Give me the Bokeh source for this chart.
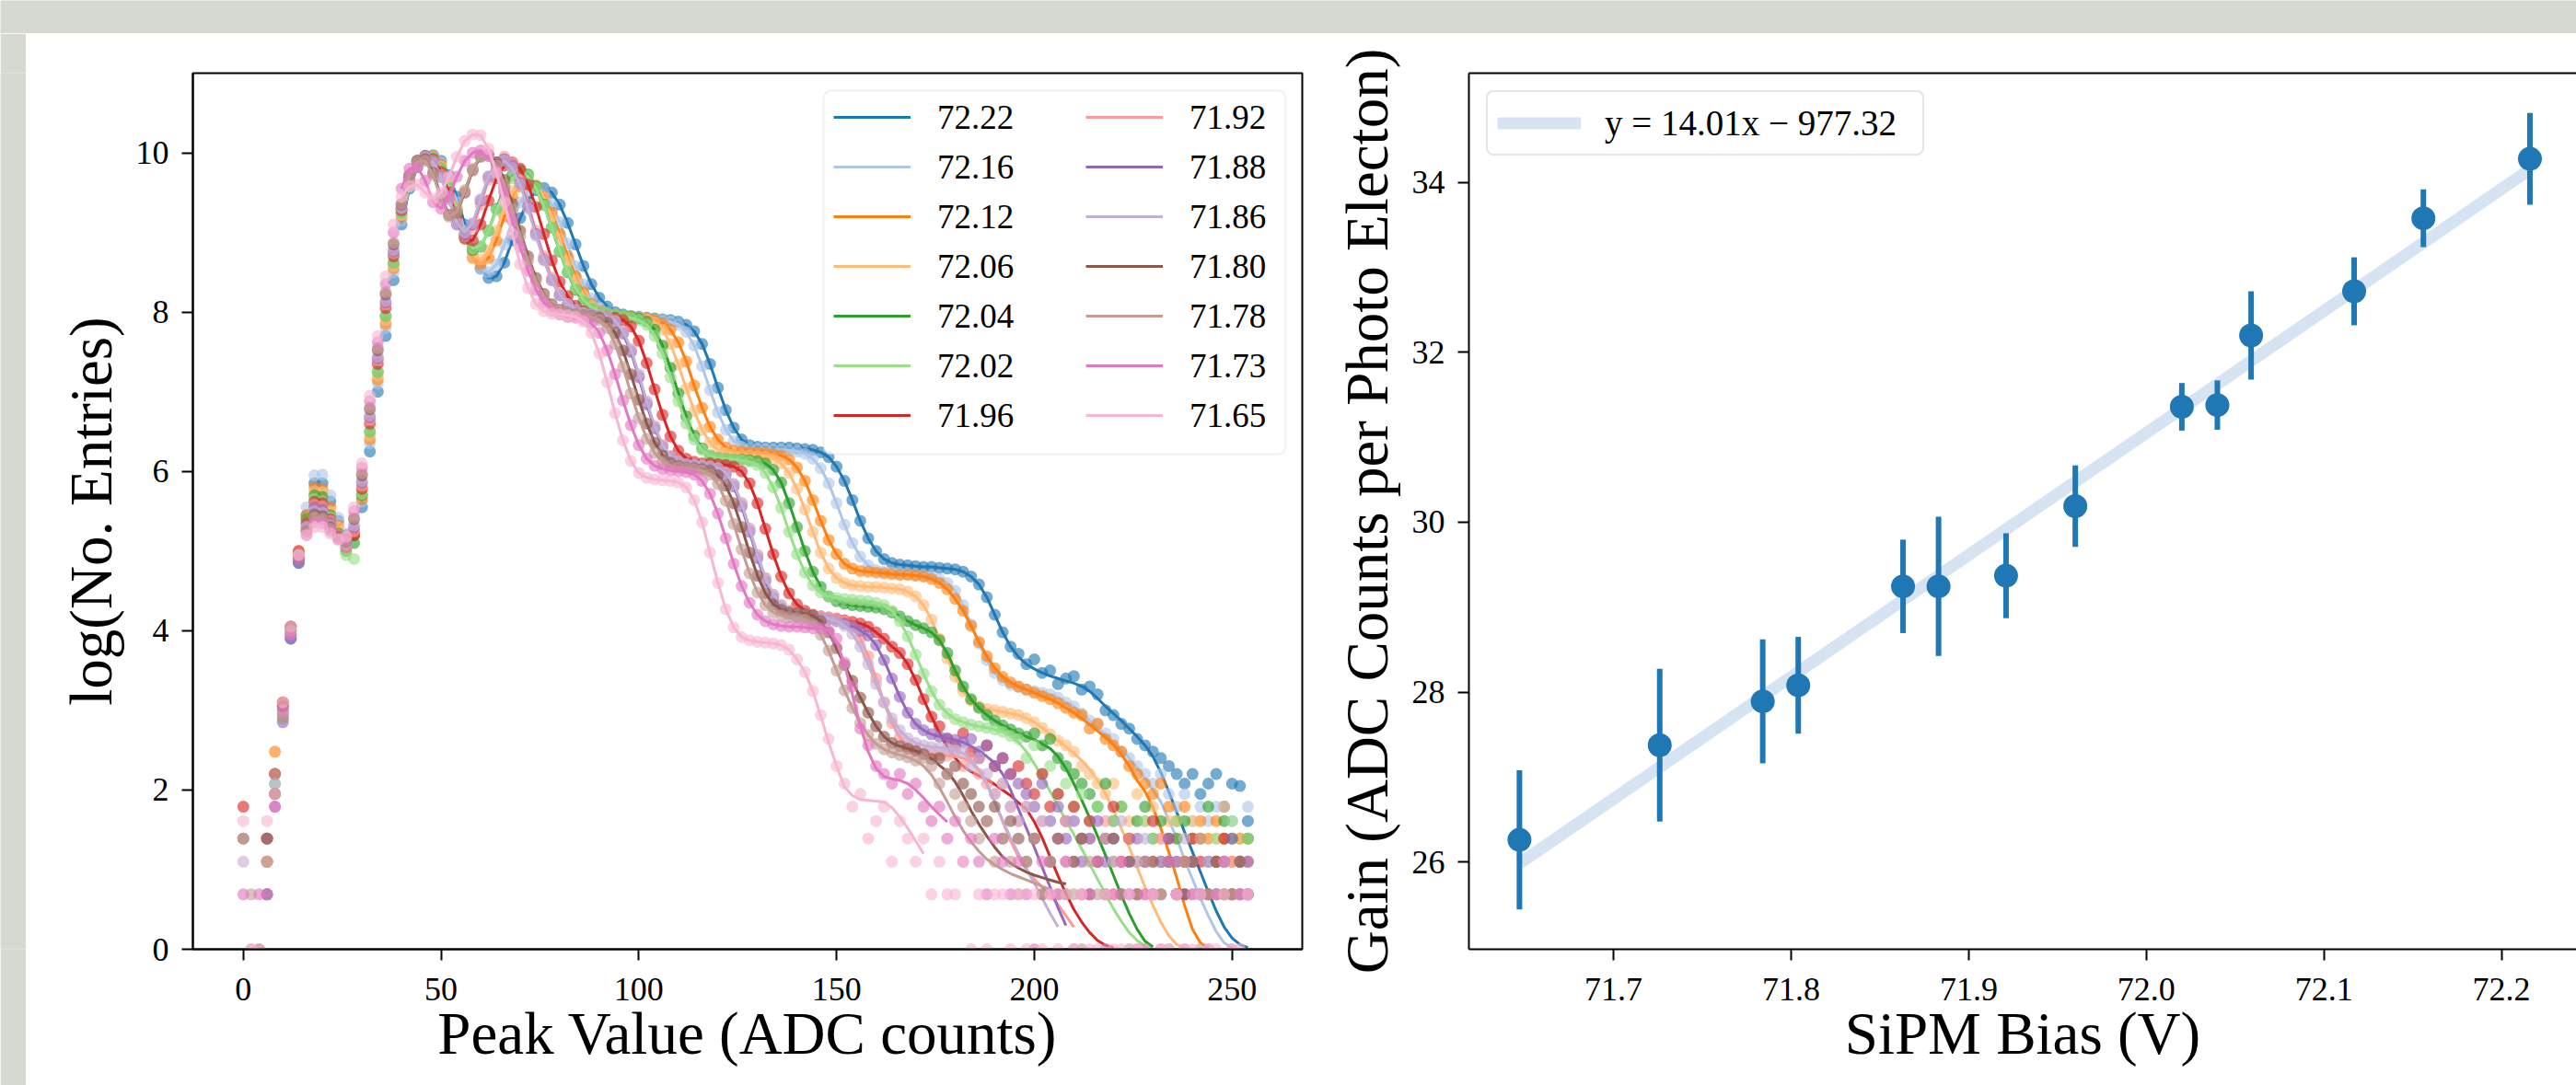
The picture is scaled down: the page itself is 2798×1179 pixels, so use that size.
import numpy as np
from bokeh.plotting import figure
from bokeh.models import (Range1d, FixedTicker, PrintfTickFormatter, Legend,
                          LegendItem, LinearAxis, BoxAnnotation)
from bokeh.layouts import row, column
from bokeh.embed import file_html
from bokeh.resources import INLINE

FONT = "Liberation Serif"
PAGE_GRAY = "#d6d9d2"

# ------------------------------------------------------------------
# Left panel data: log(entries) per ADC bin for 14 SiPM bias values
# ------------------------------------------------------------------
series_labels = ["72.22", "72.16", "72.12", "72.06", "72.04", "72.02", "71.96",
                 "71.92", "71.88", "71.86", "71.80", "71.78", "71.73", "71.65"]
series_colors = ["#1f77b4", "#aec7e8", "#ff7f0e", "#ffbb78", "#2ca02c", "#98df8a",
                 "#d62728", "#ff9896", "#9467bd", "#c5b0d5", "#8c564b", "#c49c94",
                 "#e377c2", "#f7b6d2"]
adc_ticks = [0, 50, 100, 150, 200, 250]
log_ticks = [0, 2, 4, 6, 8, 10]
early_bins = [0, 2, 4, 6, 8, 10, 12, 14, 16, 18, 20, 22, 24, 26, 28, 30, 32, 34, 36, 38]
fit_first_bin = 40
bin_step = 2

# 72.22
early_7222 = [None, None, None, 1.1, 2.2, 2.95, 3.9, 4.85, 5.45, 5.85, 5.85, 5.62, 5.38, 5.2, 5.2, 5.55, 6.25, 7.0, 7.7, 8.4]
fit_7222 = [9.1, 9.55, 9.82, 9.95, 9.97, 9.9, 9.72, 9.45, 9.1, 8.78,
            8.55, 8.43, 8.45, 8.62, 8.9, 9.18, 9.4, 9.53, 9.56, 9.5,
            9.35, 9.12, 8.85, 8.58, 8.35, 8.18, 8.07, 8.0, 7.97, 7.95,
            7.94, 7.93, 7.92, 7.91, 7.9, 7.88, 7.84, 7.76, 7.6, 7.35,
            7.05, 6.77, 6.55, 6.4, 6.33, 6.31, 6.3, 6.3, 6.3, 6.3,
            6.29, 6.28, 6.27, 6.24, 6.18, 6.06, 5.88, 5.64, 5.38, 5.16,
            5.0, 4.9, 4.85, 4.83, 4.82, 4.81, 4.8, 4.8, 4.79, 4.78,
            4.77, 4.74, 4.68, 4.58, 4.42, 4.2, 3.98, 3.8, 3.67, 3.58,
            3.52, 3.47, 3.43, 3.4, 3.37, 3.34, 3.3, 3.24, 3.15, 3.05,
            2.96, 2.87, 2.77, 2.67, 2.56, 2.42, 2.22, 1.98, 1.72, 1.47,
            1.22, 0.97, 0.72, 0.48, 0.28, 0.14, 0.06, 0.02]
tail_from_7222 = 196
tail_7222 = [3.71, 3.58, 3.64, 3.47, 3.5, 3.33, 3.4, 3.43, 3.26, 3.3,
             3.2, 3.0, 2.94, 2.83, 2.77, 2.64, 2.56, 2.48, 2.4, 2.3,
             2.2, 2.08, 2.2, 1.95, 2.08, 2.2, 1.79, 2.08, 2.05, 1.61]

# 72.16
early_7216 = [None, None, None, 0.69, 2.08, 3.0, 3.95, 4.95, 5.55, 5.95, 5.96, 5.7, 5.42, 5.22, 5.25, 5.62, 6.35, 7.1, 7.8, 8.5]
fit_7216 = [9.15, 9.58, 9.84, 9.95, 9.96, 9.88, 9.68, 9.38, 9.02, 8.72,
            8.54, 8.5, 8.6, 8.85, 9.14, 9.38, 9.52, 9.56, 9.5, 9.35,
            9.13, 8.86, 8.58, 8.35, 8.17, 8.06, 8.0, 7.97, 7.95, 7.94,
            7.93, 7.92, 7.91, 7.9, 7.88, 7.84, 7.75, 7.58, 7.32, 7.02,
            6.74, 6.52, 6.38, 6.31, 6.29, 6.28, 6.28, 6.27, 6.27, 6.26,
            6.25, 6.22, 6.16, 6.04, 5.85, 5.6, 5.33, 5.1, 4.93, 4.82,
            4.76, 4.74, 4.73, 4.72, 4.71, 4.7, 4.69, 4.68, 4.65, 4.6,
            4.5, 4.32, 4.08, 3.84, 3.63, 3.47, 3.38, 3.32, 3.29, 3.26,
            3.24, 3.22, 3.2, 3.16, 3.1, 3.05, 2.96, 2.87, 2.78, 2.69,
            2.6, 2.5, 2.4, 2.28, 2.15, 2.0, 1.85, 1.62, 1.4, 1.12,
            0.88, 0.64, 0.42, 0.22, 0.08, 0.02]
tail_from_7216 = 216
tail_7216 = [2.83, 2.71, 2.64, 2.48, 2.4, 2.3, 2.2, 2.08, 2.2, 1.95,
             1.79, 1.95, 1.61, 1.79, 1.61, 1.79, 1.39, 1.61, 1.39, 1.79]

# 72.12
early_7212 = [None, None, None, 1.39, 2.48, 3.05, 4.0, 4.95, 5.45, 5.8, 5.78, 5.55, 5.32, 5.15, 5.2, 5.65, 6.4, 7.15, 7.85, 8.55]
fit_7212 = [9.2, 9.62, 9.86, 9.96, 9.95, 9.85, 9.62, 9.3, 8.95, 8.68,
            8.6, 8.68, 8.9, 9.2, 9.45, 9.58, 9.62, 9.58, 9.45, 9.25,
            8.98, 8.7, 8.45, 8.25, 8.1, 8.02, 7.98, 7.96, 7.95, 7.94,
            7.93, 7.92, 7.9, 7.86, 7.78, 7.62, 7.38, 7.08, 6.8, 6.56,
            6.4, 6.3, 6.26, 6.25, 6.24, 6.24, 6.23, 6.22, 6.2, 6.15,
            6.05, 5.88, 5.64, 5.38, 5.14, 4.96, 4.84, 4.78, 4.75, 4.74,
            4.73, 4.72, 4.71, 4.7, 4.7, 4.69, 4.68, 4.65, 4.6, 4.52,
            4.4, 4.25, 4.06, 3.86, 3.68, 3.53, 3.42, 3.35, 3.3, 3.26,
            3.22, 3.18, 3.14, 3.09, 3.03, 2.97, 2.9, 2.82, 2.74, 2.66,
            2.57, 2.45, 2.3, 2.12, 1.98, 1.78, 1.52, 1.22, 0.9, 0.55,
            0.25, 0.08, 0.02]
tail_from_7212 = 212
tail_7212 = [2.94, 2.77, 2.83, 2.64, 2.56, 2.48, 2.3, 2.2, 2.08, 1.95,
             2.08, 1.79, 1.61, 1.79, 1.39, 1.61, 1.39, 1.61, 1.39, 1.1,
             1.39, 1.39]

# 72.06
early_7206 = [None, None, None, 1.1, 2.2, 3.1, 4.05, 5.0, 5.4, 5.75, 5.74, 5.5, 5.3, 5.12, 5.25, 5.7, 6.45, 7.2, 7.9, 8.58]
fit_7206 = [9.22, 9.63, 9.87, 9.96, 9.94, 9.83, 9.6, 9.28, 8.96, 8.72,
            8.66, 8.78, 9.02, 9.3, 9.52, 9.65, 9.68, 9.6, 9.44, 9.2,
            8.92, 8.64, 8.4, 8.21, 8.08, 8.01, 7.98, 7.96, 7.95, 7.94,
            7.93, 7.91, 7.87, 7.78, 7.6, 7.34, 7.04, 6.76, 6.52, 6.36,
            6.27, 6.23, 6.21, 6.2, 6.2, 6.19, 6.18, 6.16, 6.1, 5.98,
            5.78, 5.52, 5.24, 4.98, 4.78, 4.66, 4.6, 4.57, 4.56, 4.55,
            4.55, 4.54, 4.53, 4.52, 4.49, 4.43, 4.32, 4.14, 3.9, 3.65,
            3.42, 3.24, 3.12, 3.05, 3.02, 3.0, 2.98, 2.96, 2.94, 2.9,
            2.85, 2.78, 2.7, 2.62, 2.54, 2.46, 2.37, 2.26, 2.12, 1.95,
            1.75, 1.52, 1.28, 1.03, 0.78, 0.55, 0.34, 0.17, 0.06, 0.02]
tail_from_7206 = 208
tail_7206 = [2.56, 2.48, 2.3, 2.2, 2.08, 1.95, 2.08, 1.79, 1.61, 1.95,
             1.61, 1.79, 1.39, 1.61, 1.39, 1.1, 1.61, 1.39, 1.1, 1.39,
             1.79, 1.1, 1.39, 1.1]

# 72.04
early_7204 = [None, None, None, 0.69, 1.95, 2.9, 3.95, 4.9, 5.4, 5.7, 5.68, 5.45, 5.22, 5.0, 5.1, 5.7, 6.5, 7.25, 7.95, 8.62]
fit_7204 = [9.25, 9.65, 9.88, 9.96, 9.93, 9.8, 9.56, 9.25, 8.94, 8.78,
            8.82, 9.02, 9.3, 9.56, 9.72, 9.78, 9.73, 9.58, 9.35, 9.06,
            8.76, 8.5, 8.28, 8.13, 8.04, 8.0, 7.98, 7.96, 7.95, 7.94,
            7.92, 7.88, 7.78, 7.58, 7.3, 6.98, 6.69, 6.45, 6.29, 6.2,
            6.17, 6.16, 6.15, 6.15, 6.14, 6.13, 6.1, 6.02, 5.86, 5.6,
            5.3, 5.0, 4.74, 4.55, 4.43, 4.37, 4.34, 4.32, 4.31, 4.3,
            4.29, 4.27, 4.23, 4.18, 4.12, 4.07, 4.03, 3.98, 3.88, 3.72,
            3.5, 3.3, 3.14, 3.03, 2.94, 2.87, 2.81, 2.76, 2.71, 2.67,
            2.63, 2.58, 2.52, 2.42, 2.27, 2.08, 1.87, 1.65, 1.42, 1.18,
            0.93, 0.68, 0.45, 0.25, 0.1, 0.03]
tail_from_7204 = 200
tail_7204 = [2.71, 2.56, 2.64, 2.4, 2.3, 2.2, 2.08, 1.95, 1.79, 2.08,
             1.61, 1.79, 1.39, 1.61, 1.79, 1.39, 1.61, 1.1, 1.39, 1.61,
             1.1, 1.39, 1.79, 1.1, 1.61, 1.39, 1.1, 1.39]

# 72.02
early_7202 = [None, None, None, 1.1, 2.08, 3.0, 4.0, 4.95, 5.35, 5.65, 5.62, 5.42, 5.2, 4.95, 4.9, 5.72, 6.5, 7.25, 7.95, 8.62]
fit_7202 = [9.24, 9.64, 9.87, 9.95, 9.93, 9.8, 9.57, 9.27, 8.97, 8.8,
            8.83, 9.02, 9.28, 9.52, 9.68, 9.74, 9.7, 9.56, 9.34, 9.06,
            8.77, 8.51, 8.3, 8.15, 8.06, 8.01, 7.98, 7.96, 7.95, 7.93,
            7.9, 7.84, 7.7, 7.48, 7.18, 6.88, 6.6, 6.4, 6.27, 6.2,
            6.17, 6.16, 6.15, 6.14, 6.12, 6.08, 5.98, 5.8, 5.54, 5.24,
            4.96, 4.73, 4.57, 4.48, 4.43, 4.41, 4.4, 4.39, 4.38, 4.37,
            4.35, 4.32, 4.25, 4.12, 3.93, 3.7, 3.46, 3.24, 3.07, 2.96,
            2.89, 2.85, 2.82, 2.8, 2.78, 2.76, 2.73, 2.68, 2.6, 2.48,
            2.33, 2.16, 1.98, 1.8, 1.62, 1.44, 1.26, 1.07, 0.88, 0.69,
            0.51, 0.35, 0.21, 0.11, 0.04]
tail_from_7202 = 196
tail_7202 = [2.64, 2.4, 2.56, 2.2, 2.3, 1.95, 2.08, 1.79, 1.95, 1.61,
             1.79, 1.39, 1.61, 1.79, 1.39, 1.1, 1.61, 1.39, 1.1, 1.39,
             1.61, 1.1, 1.39, 0.69, 1.1, 1.39, 1.1, 1.61, 1.1, 1.39]

# 71.96
early_7196 = [1.79, None, None, 1.39, 2.2, 3.1, 4.05, 5.0, 5.35, 5.62, 5.6, 5.4, 5.2, 5.05, 5.2, 5.78, 6.6, 7.35, 8.05, 8.7]
fit_7196 = [9.28, 9.67, 9.89, 9.96, 9.92, 9.76, 9.5, 9.18, 8.92, 8.9,
            9.1, 9.4, 9.68, 9.84, 9.88, 9.8, 9.6, 9.32, 8.98, 8.65,
            8.38, 8.2, 8.08, 8.01, 7.97, 7.95, 7.94, 7.93, 7.9, 7.82,
            7.64, 7.36, 7.03, 6.71, 6.44, 6.26, 6.16, 6.12, 6.1, 6.1,
            6.09, 6.08, 6.06, 6.0, 5.85, 5.6, 5.28, 4.96, 4.68, 4.47,
            4.33, 4.25, 4.2, 4.18, 4.16, 4.15, 4.13, 4.11, 4.09, 4.05,
            3.98, 3.9, 3.8, 3.72, 3.58, 3.38, 3.14, 2.92, 2.72, 2.54,
            2.4, 2.3, 2.23, 2.18, 2.13, 2.07, 2.0, 1.93, 1.84, 1.76,
            1.6, 1.4, 1.16, 0.92, 0.7, 0.5, 0.34, 0.21, 0.11, 0.05,
            0.02]
tail_from_7196 = 176
tail_7196 = [2.8, 2.64, 2.56, 2.71, 2.48, 2.4, 2.56, 2.3, 2.4, 2.2,
             2.3, 2.08, 1.95, 2.2, 1.79, 1.95, 1.61, 1.79, 1.39, 1.61,
             1.1, 1.39, 1.79, 1.1, 1.39, 0.69, 1.1, 1.61, 1.1, 1.39,
             0.69, 1.1, 1.39, 1.1, 0.69, 1.1, 1.39, 0.69, 1.1, 0.69]

# 71.92
early_7192 = [None, None, None, 1.1, 1.95, 2.95, 3.95, 4.9, 5.3, 5.58, 5.56, 5.38, 5.2, 5.05, 5.25, 5.82, 6.65, 7.4, 8.1, 8.74]
fit_7192 = [9.3, 9.7, 9.9, 9.95, 9.9, 9.72, 9.45, 9.12, 8.95, 9.05,
            9.35, 9.66, 9.88, 9.95, 9.88, 9.66, 9.36, 9.02, 8.7, 8.43,
            8.23, 8.1, 8.02, 7.98, 7.96, 7.95, 7.93, 7.88, 7.75, 7.52,
            7.2, 6.86, 6.56, 6.33, 6.19, 6.12, 6.09, 6.08, 6.07, 6.06,
            6.04, 5.98, 5.84, 5.6, 5.28, 4.95, 4.66, 4.45, 4.32, 4.25,
            4.22, 4.2, 4.19, 4.18, 4.17, 4.15, 4.12, 4.05, 3.9, 3.68,
            3.4, 3.1, 2.84, 2.66, 2.55, 2.49, 2.46, 2.45, 2.44, 2.43,
            2.42, 2.4, 2.35, 2.25, 2.08, 1.85, 1.6, 1.36, 1.16, 1.0,
            0.88, 0.78, 0.68, 0.56, 0.42, 0.28]
tail_from_7192 = 180
tail_7192 = [2.48, 2.3, 2.4, 2.2, 2.08, 1.95, 2.08, 1.79, 1.61, 1.79,
             1.39, 1.61, 1.1, 1.39, 1.61, 1.1, 0.69, 1.39, 1.1, 1.61,
             0.69, 1.1, 1.39, 1.1, 0.69, 1.1, 1.39, None, 1.1, 0.69,
             1.1, 1.39, 0.69, 1.1, 0.69, 1.1, 0.69, 1.1]

# 71.88
early_7188 = [None, None, None, 0.69, 1.79, 2.85, 3.9, 4.85, 5.3, 5.55, 5.52, 5.35, 5.18, 5.1, 5.3, 5.86, 6.68, 7.42, 8.12, 8.76]
fit_7188 = [9.3, 9.7, 9.9, 9.95, 9.89, 9.7, 9.42, 9.1, 8.97, 9.1,
            9.4, 9.7, 9.88, 9.92, 9.84, 9.62, 9.32, 8.98, 8.66, 8.4,
            8.21, 8.09, 8.02, 7.98, 7.96, 7.95, 7.93, 7.87, 7.73, 7.5,
            7.18, 6.84, 6.54, 6.31, 6.18, 6.11, 6.08, 6.07, 6.06, 6.05,
            6.03, 5.96, 5.81, 5.56, 5.24, 4.91, 4.62, 4.41, 4.28, 4.21,
            4.18, 4.17, 4.16, 4.15, 4.14, 4.12, 4.09, 4.05, 4.0, 3.94,
            3.82, 3.63, 3.4, 3.17, 2.97, 2.83, 2.75, 2.7, 2.67, 2.65,
            2.63, 2.6, 2.55, 2.49, 2.42, 2.34, 2.2, 2.0, 1.76, 1.52,
            1.28, 1.03, 0.78, 0.52, 0.3]
tail_from_7188 = 184
tail_7188 = [2.64, 2.48, 2.56, 2.3, 2.4, 2.2, 2.08, 1.95, 1.79, 2.08,
             1.61, 1.79, 1.39, 1.61, 1.1, 1.39, 1.61, 1.1, 1.39, 0.69,
             1.1, 1.39, 1.1, 0.69, 1.1, 1.39, 1.1, 0.69, 1.1, None,
             1.1, 0.69, 1.1, 1.39, 0.69, 1.1]

# 71.86
early_7186 = [1.1, None, None, 1.39, 2.08, 3.0, 4.0, 4.95, 5.3, 5.5, 5.48, 5.32, 5.18, 5.08, 5.32, 5.88, 6.7, 7.44, 8.14, 8.78]
fit_7186 = [9.31, 9.7, 9.9, 9.95, 9.88, 9.69, 9.41, 9.12, 9.0, 9.12,
            9.42, 9.7, 9.87, 9.9, 9.81, 9.6, 9.3, 8.96, 8.65, 8.4,
            8.22, 8.1, 8.03, 7.99, 7.97, 7.96, 7.94, 7.89, 7.76, 7.54,
            7.22, 6.88, 6.57, 6.33, 6.19, 6.12, 6.09, 6.08, 6.07, 6.06,
            6.04, 5.98, 5.84, 5.6, 5.28, 4.95, 4.66, 4.45, 4.32, 4.25,
            4.21, 4.19, 4.18, 4.17, 4.15, 4.12, 4.06, 3.96, 3.8, 3.58,
            3.33, 3.1, 2.9, 2.75, 2.65, 2.59, 2.56, 2.54, 2.53, 2.52,
            2.5, 2.46, 2.38, 2.25, 2.07, 1.85, 1.62, 1.4, 1.2, 1.01,
            0.83, 0.64, 0.45, 0.28]
tail_from_7186 = 182
tail_7186 = [2.48, 2.3, 2.4, 2.2, 1.95, 2.08, 1.79, 1.61, 1.79, 1.39,
             1.61, 1.1, 1.39, 1.61, 1.1, 1.39, 0.69, 1.1, 1.39, 1.1,
             1.61, 0.69, 1.1, 1.39, 0.69, 1.1, 1.1, 0.69, 1.39, 1.1,
             0.69, 1.1, 0.69, 1.1, 0.69, 1.1, 0.69]

# 71.80
early_7180 = [1.39, None, 0, 1.39, 1.95, 3.05, 4.05, 4.9, 5.25, 5.46, 5.44, 5.3, 5.18, 5.12, 5.4, 5.95, 6.78, 7.52, 8.22, 8.85]
fit_7180 = [9.35, 9.72, 9.9, 9.92, 9.75, 9.45, 9.22, 9.25, 9.5, 9.78,
            9.95, 9.98, 9.88, 9.66, 9.36, 9.02, 8.7, 8.43, 8.23, 8.1,
            8.03, 7.99, 7.97, 7.96, 7.95, 7.93, 7.87, 7.74, 7.52, 7.22,
            6.9, 6.6, 6.36, 6.2, 6.11, 6.07, 6.05, 6.04, 6.03, 6.01,
            5.95, 5.82, 5.6, 5.3, 4.98, 4.69, 4.47, 4.33, 4.26, 4.23,
            4.22, 4.21, 4.19, 4.12, 3.98, 3.78, 3.57, 3.37, 3.16, 2.97,
            2.8, 2.67, 2.59, 2.55, 2.52, 2.49, 2.45, 2.39, 2.31, 2.23,
            2.1, 1.93, 1.74, 1.57, 1.42, 1.28, 1.16, 1.08, 1.02, 0.97,
            0.93, 0.9, 0.87, 0.84, 0.82]
tail_from_7180 = 176
tail_7180 = [2.4, 2.2, 2.3, 2.08, 1.95, 1.79, 1.61, 1.79, 1.39, 1.61,
             1.39, 1.1, 1.39, 0.69, 1.1, 1.39, 0.69, 1.1, 1.39, 0.69,
             1.1, 0.69, 1.39, 0.69, 1.1, 0.69, 0, 1.1, 0.69, 1.1,
             0.69, 0.69, 1.1, 0.69, 0.69, 1.1, 0.69, 0.69, 1.1, 0.69]

# 71.78
early_7178 = [1.39, 0.69, None, 1.1, 2.2, 2.9, 4.0, 4.95, 5.25, 5.42, 5.4, 5.28, 5.16, 5.12, 5.42, 5.98, 6.8, 7.55, 8.25, 8.87]
fit_7178 = [9.36, 9.72, 9.89, 9.9, 9.72, 9.42, 9.2, 9.26, 9.53, 9.8,
            9.96, 9.96, 9.84, 9.6, 9.29, 8.95, 8.64, 8.39, 8.2, 8.08,
            8.02, 7.99, 7.97, 7.96, 7.94, 7.9, 7.8, 7.6, 7.31, 6.98,
            6.67, 6.41, 6.23, 6.12, 6.07, 6.05, 6.04, 6.03, 6.01, 5.96,
            5.84, 5.63, 5.34, 5.02, 4.72, 4.48, 4.32, 4.23, 4.19, 4.17,
            4.16, 4.14, 4.08, 3.95, 3.75, 3.5, 3.25, 3.03, 2.84, 2.69,
            2.58, 2.51, 2.47, 2.44, 2.41, 2.37, 2.3, 2.19, 2.03, 1.85,
            1.66, 1.49, 1.35, 1.23, 1.13, 1.06, 1.0, 0.95, 0.91, 0.87,
            0.83, 0.79, 0.75]
tail_from_7178 = 172
tail_7178 = [2.4, 2.3, 2.08, 2.2, 1.95, 1.79, 1.61, 1.39, 1.61, 1.1,
             1.39, 1.1, 0.69, 1.1, 1.39, 0.69, 1.1, 0.69, 1.1, 0.69,
             0, 1.1, 0.69, 0.69, 1.1, 0.69, 0, 0.69, 1.1, 0.69,
             0.69, 0, 0.69, 1.1, 0.69, 0, 0.69, 0.69, 1.1, 0.69,
             0.69, 0.69]

# 71.73
early_7173 = [0.69, 0, 0.69, 0.69, 1.79, 3.0, 3.95, 4.9, 5.2, 5.36, 5.35, 5.25, 5.15, 5.15, 5.5, 6.05, 6.88, 7.62, 8.35, 9.0]
fit_7173 = [9.55, 9.8, 9.82, 9.65, 9.38, 9.3, 9.45, 9.7, 9.9, 10.0,
            10.03, 9.96, 9.78, 9.5, 9.16, 8.82, 8.52, 8.28, 8.12, 8.02,
            7.97, 7.94, 7.93, 7.91, 7.86, 7.74, 7.52, 7.22, 6.89, 6.58,
            6.33, 6.16, 6.07, 6.03, 6.01, 6.0, 5.99, 5.96, 5.88, 5.72,
            5.47, 5.16, 4.84, 4.56, 4.35, 4.2, 4.12, 4.08, 4.06, 4.05,
            4.05, 4.04, 4.03, 4.03, 4.0, 3.86, 3.58, 3.2, 2.8, 2.48,
            2.27, 2.17, 2.14, 2.12, 2.08, 2.0, 1.9, 1.79, 1.69, 1.6]
tail_from_7173 = 150
tail_7173 = [3.9, 3.6, 3.3, 2.77, 2.56, 2.3, 2.2, 2.08, 2.2, 1.95,
             2.08, 1.79, 1.61, 1.79, 1.39, 1.61, 1.1, 1.39, 1.1, 0.69,
             1.39, 1.1, 0.69, 1.1, 0.69, 0, 1.1, 0.69, 0.69, 1.1,
             0, 0.69, 0.69, 1.1, 0, 0.69, 1.1, 0.69, 0, 0.69,
             0.69, 0, 1.1, 0.69, 0, 0.69, 0.69, 0, 0.69, 1.1,
             0, 0.69, 0.69]

# 71.65
early_7165 = [1.61, 0, 0, 1.61, 1.95, 3.1, 4.05, 4.95, 5.2, 5.3, 5.3, 5.22, 5.14, 5.18, 5.55, 6.1, 6.95, 7.7, 8.45, 9.1]
fit_7165 = [9.45, 9.58, 9.6, 9.5, 9.42, 9.5, 9.7, 9.95, 10.15, 10.23,
            10.22, 10.05, 9.75, 9.38, 8.98, 8.6, 8.3, 8.1, 8.01, 7.98,
            7.97, 7.96, 7.94, 7.88, 7.74, 7.48, 7.12, 6.73, 6.39, 6.13,
            5.98, 5.92, 5.9, 5.89, 5.88, 5.86, 5.8, 5.64, 5.36, 4.98,
            4.6, 4.27, 4.04, 3.92, 3.88, 3.86, 3.85, 3.84, 3.82, 3.76,
            3.64, 3.48, 3.24, 2.93, 2.6, 2.3, 2.04, 1.93, 1.88, 1.87,
            1.86, 1.85, 1.78, 1.66, 1.52, 1.36, 1.2]
tail_from_7165 = 146
tail_7165 = [2.94, 2.64, 2.3, 2.08, 1.79, 1.95, 1.39, 1.61, 1.79, 1.1,
             1.61, 1.39, 1.1, 1.39, 0.69, 1.1, 0.69, 0.69, 1.1, 0,
             0.69, 0, 0.69, 0.69, 0, 0.69, 0, 0.69, 0, 0.69,
             0, 0.69, 0, 0.69, 0, 0, 0.69, 0, 0, 0.69,
             0, 0, 0.69, 0, 0, 0.69, 0, 0, 0.69, 0,
             0, 0.69, 0, 0, 0.69]

early_sets = [early_7222, early_7216, early_7212, early_7206, early_7204, early_7202, early_7196,
              early_7192, early_7188, early_7186, early_7180, early_7178, early_7173, early_7165]
fit_sets = [fit_7222, fit_7216, fit_7212, fit_7206, fit_7204, fit_7202, fit_7196,
            fit_7192, fit_7188, fit_7186, fit_7180, fit_7178, fit_7173, fit_7165]
tail_starts = [tail_from_7222, tail_from_7216, tail_from_7212, tail_from_7206, tail_from_7204,
               tail_from_7202, tail_from_7196, tail_from_7192, tail_from_7188, tail_from_7186,
               tail_from_7180, tail_from_7178, tail_from_7173, tail_from_7165]
tail_sets = [tail_7222, tail_7216, tail_7212, tail_7206, tail_7204, tail_7202, tail_7196,
             tail_7192, tail_7188, tail_7186, tail_7180, tail_7178, tail_7173, tail_7165]

# ------------------------------------------------------------------
# Right panel data: gain vs bias
# ------------------------------------------------------------------
bias_v = [71.647, 71.726, 71.784, 71.804, 71.863, 71.883, 71.921,
          71.960, 72.020, 72.040, 72.059, 72.117, 72.156, 72.216]
gain = [26.26, 27.375, 27.89, 28.08, 29.245, 29.245, 29.37,
        30.19, 31.36, 31.38, 32.2, 32.72, 33.58, 34.28]
gain_err = [0.82, 0.9, 0.73, 0.57, 0.55, 0.82, 0.5,
            0.48, 0.28, 0.29, 0.52, 0.4, 0.34, 0.54]
bias_ticks = [71.7, 71.8, 71.9, 72.0, 72.1, 72.2]
gain_ticks = [26, 28, 30, 32, 34]
fit_label = "y = 14.01x \u2212 977.32"


def style_axis(ax, label_standoff):
    ax.axis_line_color = "black"
    ax.axis_line_width = 2
    ax.major_tick_line_color = "black"
    ax.major_tick_line_width = 2
    ax.major_tick_out = 12
    ax.major_tick_in = 0
    ax.minor_tick_line_color = None
    ax.major_label_text_font = FONT
    ax.major_label_text_font_size = "36px"
    ax.major_label_text_color = "black"
    ax.axis_label_text_font = FONT
    ax.axis_label_text_font_size = "65px"
    ax.axis_label_text_font_style = "normal"
    ax.axis_label_text_color = "black"
    ax.axis_label_standoff = label_standoff


def spacer(w, h):
    s = figure(width=w, height=h, toolbar_location=None, output_backend="svg",
               x_axis_location=None, y_axis_location=None, min_border=0,
               background_fill_color=PAGE_GRAY, border_fill_color=PAGE_GRAY,
               outline_line_color=None)
    s.grid.visible = False
    return s


# ---------------- left figure ----------------
p1 = figure(width=1402, height=1143, toolbar_location=None, output_backend="svg",
            x_range=Range1d(-12.75, 267.75), y_range=Range1d(0, 11),
            min_border_left=181, min_border_right=16, min_border_top=43,
            min_border_bottom=148)
p1.outline_line_color = "black"
p1.outline_line_width = 2
p1.grid.visible = False
p1.xaxis.ticker = FixedTicker(ticks=adc_ticks)
p1.yaxis.ticker = FixedTicker(ticks=log_ticks)
p1.xaxis.axis_label = "Peak Value (ADC counts)"
p1.yaxis.axis_label = "log(No. Entries)"
style_axis(p1.xaxis[0], -3)
style_axis(p1.yaxis[0], 10)
p1.xaxis[0].major_label_standoff = 19
p1.yaxis[0].major_label_standoff = 14

items = []
for lab, col, early, fit, t0, tail in zip(series_labels, series_colors, early_sets,
                                          fit_sets, tail_starts, tail_sets):
    fx = [fit_first_bin + bin_step * i for i in range(len(fit))]
    tx = [t0 + bin_step * i for i in range(len(tail))]
    sx, sy = [], []
    for x, y in zip(early_bins, early):
        if y is not None:
            sx.append(x)
            sy.append(y)
    for x, y in zip(fx, fit):
        if x < t0:
            sx.append(x)
            sy.append(y)
    for x, y in zip(tx, tail):
        if y is not None:
            sx.append(x)
            sy.append(y)
    p1.scatter(sx, sy, size=13, fill_color=col, fill_alpha=0.62, line_color=None)
    r = p1.line(fx, fit, line_color=col, line_width=3)
    items.append(LegendItem(label=lab, renderers=[r]))

box = BoxAnnotation(left=685, right=1187, bottom=538, top=933,
                    left_units="screen", right_units="screen",
                    top_units="screen", bottom_units="screen",
                    fill_color="white", fill_alpha=0.8,
                    line_color="#cccccc", line_width=2)
try:
    box.border_radius = 8
except Exception:
    pass
p1.add_layout(box)

for k, vx in enumerate([696, 970]):
    leg = Legend(items=items[7 * k:7 * k + 7], location=(vx, 558), orientation="vertical",
                 padding=0, margin=0, spacing=10, glyph_width=84, glyph_height=44,
                 label_height=44, label_standoff=29, label_text_font=FONT,
                 label_text_font_size="37px", label_text_color="black",
                 border_line_color=None, background_fill_alpha=0)
    p1.add_layout(leg)

# ---------------- right figure ----------------
span_x = max(bias_v) - min(bias_v)
x_lo = min(bias_v) - 0.05 * span_x
err_lo = [g - e for g, e in zip(gain, gain_err)]
err_hi = [g + e for g, e in zip(gain, gain_err)]
span_y = max(err_hi) - min(err_lo)
y_lo = min(err_lo) - 0.05 * span_y
y_hi = max(err_hi) + 0.05 * span_y

p2 = figure(width=1368, height=1143, toolbar_location=None, output_backend="svg",
            x_range=Range1d(x_lo, 72.2422), y_range=Range1d(y_lo, y_hi),
            min_border_left=165, min_border_right=0, min_border_top=43,
            min_border_bottom=148)
p2.outline_line_color = None
p2.grid.visible = False
p2.xaxis.ticker = FixedTicker(ticks=bias_ticks)
p2.xaxis.formatter = PrintfTickFormatter(format="%.1f")
p2.yaxis.ticker = FixedTicker(ticks=gain_ticks)
p2.xaxis.axis_label = "SiPM Bias (V)"
p2.yaxis.axis_label = "Gain (ADC Counts per Photo Electon)"
style_axis(p2.xaxis[0], -3)
style_axis(p2.yaxis[0], 10)
p2.xaxis[0].major_label_standoff = 19
p2.yaxis[0].major_label_standoff = 14
top_axis = LinearAxis(ticker=FixedTicker(ticks=[]), major_tick_out=0, major_tick_in=0,
                      major_label_text_font_size="0px", axis_line_width=2,
                      axis_line_color="black", minor_tick_line_color=None)
p2.add_layout(top_axis, "above")

slope, icpt = np.polyfit(bias_v, gain, 1)
fit_x = [min(bias_v), max(bias_v)]
fit_y = [slope * x + icpt for x in fit_x]
r_fit = p2.line(fit_x, fit_y, line_width=13, line_color="#aec7e8", line_alpha=0.5)
p2.segment(bias_v, err_lo, bias_v, err_hi, line_width=6, line_color="#1f77b4")
p2.scatter(bias_v, gain, size=26, fill_color="#1f77b4", line_color=None)

leg2 = Legend(items=[LegendItem(label=fit_label, renderers=[r_fit])], location="top_left",
              margin=19, padding=10, glyph_width=91, glyph_height=47, label_height=47,
              label_width=335, label_standoff=26, label_text_font=FONT,
              label_text_font_size="39px", label_text_color="black",
              border_line_color="#cccccc", border_line_width=2, background_fill_alpha=0.8)
try:
    leg2.border_radius = 8
except Exception:
    pass
p2.add_layout(leg2)

layout = column(spacer(2798, 36), row(spacer(28, 1143), p1, p2))
open("out.html", "w").write(file_html(layout, INLINE))
